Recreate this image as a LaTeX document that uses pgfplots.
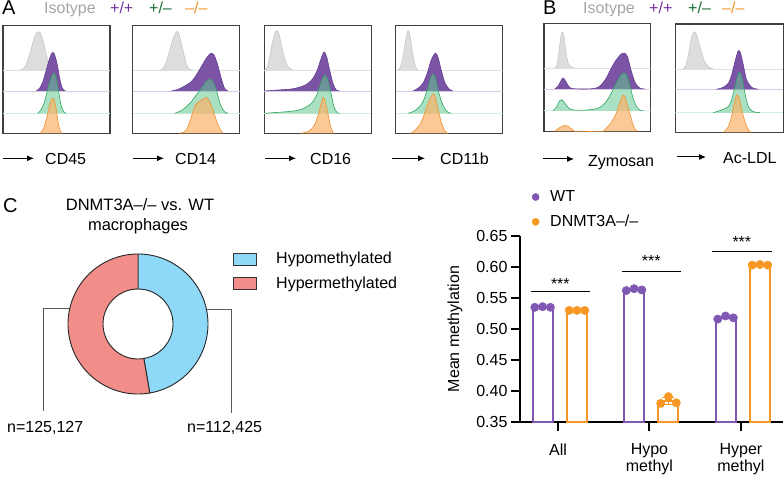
\documentclass[border=0pt]{standalone}
\usepackage{pgfplots}
\pgfplotsset{compat=1.18}
\usepackage{fontspec}
\setmainfont{Liberation Sans}
\usetikzlibrary{arrows.meta}
\definecolor{isofill}{RGB}{221,221,221}
\definecolor{isoline}{RGB}{195,195,195}
\definecolor{wtfill}{RGB}{124,84,166}
\definecolor{wtline}{RGB}{100,60,145}
\definecolor{hetfill}{RGB}{100,200,145}
\definecolor{hetline}{RGB}{45,165,95}
\definecolor{kofill}{RGB}{250,178,105}
\definecolor{koline}{RGB}{240,145,50}
\definecolor{isotxt}{RGB}{165,165,165}
\definecolor{wttxt}{RGB}{112,48,160}
\definecolor{hettxt}{RGB}{25,110,55}
\definecolor{kotxt}{RGB}{242,150,45}
\definecolor{hypoc}{RGB}{142,216,248}
\definecolor{hyperc}{RGB}{242,142,138}
\definecolor{wtc}{RGB}{128,88,180}
\definecolor{koc}{RGB}{247,152,36}
\newcommand{\fs}{\fontsize{16}{17}\selectfont}
\newcommand{\fa}{\fontsize{16}{17}\selectfont}
\pgfplotsset{
 histo/.style={scale only axis, width=107pt, height=107.6pt, y dir=reverse, xtick=\empty, ytick=\empty,
   axis line style={draw=black!75, line width=1.1pt}, anchor=center, clip=true},
 iso/.style={draw=isoline, fill=isofill, line width=0.5pt, smooth, tension=0.5},
 wt/.style={draw=wtline, fill=wtfill, line width=0.6pt, smooth, tension=0.5},
 het/.style={draw=hetline, fill=hetfill, fill opacity=0.55, line width=0.6pt, smooth, tension=0.5},
 ko/.style={draw=koline, fill=kofill, fill opacity=0.7, line width=0.6pt, smooth, tension=0.5},
 bl1/.style={draw=black!12, line width=0.6pt},
 bl2/.style={draw=wtfill!30, line width=0.6pt},
 bl3/.style={draw=hetfill!30, line width=0.6pt},
}
\begin{document}
\begin{tikzpicture}[x=1pt,y=1pt]
\useasboundingbox (0,0) rectangle (784,479);
% ---------- Panel A / B headers
\node[anchor=base west, inner sep=0] at (2,464) {\fontsize{20}{22}\selectfont A};
\node[anchor=base west, inner sep=0, text=isotxt] at (44,465.5) {\fa Isotype};
\node[anchor=base west, inner sep=0, text=wttxt] at (110,465.5) {\fa +/+};
\node[anchor=base west, inner sep=0, text=hettxt] at (149,465.5) {\fa +/–};
\node[anchor=base west, inner sep=0, text=kotxt] at (185,465.5) {\fa –/–};
\node[anchor=base west, inner sep=0] at (543,464) {\fontsize{20}{22}\selectfont B};
\node[anchor=base west, inner sep=0, text=isotxt] at (583,465.5) {\fa Isotype};
\node[anchor=base west, inner sep=0, text=wttxt] at (649,465.5) {\fa +/+};
\node[anchor=base west, inner sep=0, text=hettxt] at (688,465.5) {\fa +/–};
\node[anchor=base west, inner sep=0, text=kotxt] at (722,465.5) {\fa –/–};
% ---------- Box 1 CD45
\begin{axis}[histo, at={(56.5pt,399.5pt)}, xmin=9, xmax=328, ymin=17, ymax=340]
\addplot[bl1] coordinates {(9,150)(328,150)};
\addplot[bl2] coordinates {(9,213)(328,213)};
\addplot[bl3] coordinates {(9,280)(328,280)};
\addplot[iso] coordinates {(60,150)(70,146)(80,128)(90,98)(100,60)(107,42)(114,35)(121,40)(128,60)(136,95)(143,125)(150,145)(158,150)};
\addplot[wt] coordinates {(108,213)(118,205)(128,185)(138,150)(148,115)(156,98)(162,102)(170,130)(178,175)(186,205)(195,213)};
\addplot[het] coordinates {(112,280)(122,270)(132,248)(142,210)(152,175)(160,160)(166,168)(174,210)(182,255)(190,275)(198,280)};
\addplot[ko] coordinates {(120,340)(130,325)(140,290)(148,255)(156,235)(162,240)(168,270)(174,310)(180,335)(186,340)};
\end{axis}
% ---------- Box 2 CD14
\begin{axis}[histo, at={(186.35pt,399.5pt)}, xmin=14, xmax=336, ymin=17, ymax=340]
\addplot[bl1] coordinates {(14,150)(336,150)};
\addplot[bl2] coordinates {(14,213)(336,213)};
\addplot[bl3] coordinates {(14,280)(336,280)};
\addplot[iso] coordinates {(95,150)(105,145)(115,125)(125,90)(135,55)(146,35)(152,40)(160,70)(168,105)(176,135)(185,148)(195,150)};
\addplot[wt] coordinates {(130,213)(150,208)(170,198)(190,185)(205,165)(220,140)(235,115)(248,100)(258,105)(268,130)(280,175)(290,205)(300,213)};
\addplot[het] coordinates {(140,280)(160,272)(175,260)(190,245)(205,225)(220,205)(235,185)(245,178)(255,185)(265,210)(278,255)(290,275)(300,280)};
\addplot[ko] coordinates {(155,340)(170,335)(180,320)(190,290)(200,260)(212,245)(225,238)(235,232)(245,245)(255,270)(265,300)(275,325)(285,340)};
\end{axis}
% ---------- Box 3 CD16
\begin{axis}[histo, at={(317.65pt,399.5pt)}, xmin=18, xmax=340, ymin=17, ymax=340]
\addplot[bl1] coordinates {(18,150)(340,150)};
\addplot[bl2] coordinates {(18,213)(340,213)};
\addplot[bl3] coordinates {(18,280)(340,280)};
\addplot[iso] coordinates {(20,150)(28,140)(35,110)(42,70)(50,40)(55,32)(62,40)(70,75)(80,115)(90,140)(105,150)};
\addplot[wt] coordinates {(20,213)(60,210)(100,207)(130,200)(150,190)(165,175)(178,150)(188,120)(198,96)(206,110)(215,150)(225,190)(235,210)(245,213)};
\addplot[het] coordinates {(20,280)(60,277)(100,274)(130,268)(150,258)(165,245)(178,220)(190,185)(200,165)(208,175)(218,215)(228,260)(238,278)(245,280)};
\addplot[ko] coordinates {(130,340)(145,336)(160,328)(172,310)(182,280)(190,250)(196,232)(202,245)(210,280)(218,320)(226,340)};
\end{axis}
% ---------- Box 4 CD11b
\begin{axis}[histo, at={(449.15pt,399.5pt)}, xmin=33, xmax=355, ymin=17, ymax=340]
\addplot[bl1] coordinates {(33,150)(355,150)};
\addplot[bl2] coordinates {(33,213)(355,213)};
\addplot[bl3] coordinates {(33,280)(355,280)};
\addplot[iso] coordinates {(40,150)(48,140)(55,110)(62,65)(70,32)(76,45)(84,100)(92,138)(100,150)};
\addplot[wt] coordinates {(85,213)(100,205)(115,190)(128,160)(140,120)(152,100)(160,110)(170,150)(182,190)(195,208)(205,213)};
\addplot[het] coordinates {(70,280)(85,275)(100,265)(115,245)(128,210)(138,175)(145,162)(152,172)(162,215)(175,255)(188,275)(200,280)};
\addplot[ko] coordinates {(78,340)(92,330)(105,315)(115,295)(125,265)(135,240)(145,222)(152,230)(160,265)(170,305)(180,332)(190,340)};
\end{axis}
% ---------- Box 5 Zymosan
\begin{axis}[histo, width=106.7pt, at={(597.35pt,401.5pt)}, xmin=18, xmax=338, ymin=17, ymax=340]
\addplot[bl1] coordinates {(18,150)(338,150)};
\addplot[bl2] coordinates {(18,213)(338,213)};
\addplot[bl3] coordinates {(18,278)(338,278)};
\addplot[iso] coordinates {(50,150)(57,140)(63,100)(68,60)(72,42)(78,55)(85,110)(92,140)(100,147)(110,150)};
\addplot[wt] coordinates {(50,213)(60,205)(68,190)(75,180)(82,188)(92,205)(105,212)(150,213)(175,210)(190,200)(205,180)(220,150)(235,125)(250,108)(258,105)(268,115)(280,160)(292,195)(305,210)(320,213)};
\addplot[het] coordinates {(45,278)(55,268)(63,252)(70,245)(78,252)(90,268)(105,276)(150,276)(175,272)(190,265)(205,250)(220,225)(235,195)(248,172)(258,165)(266,172)(275,200)(285,240)(295,265)(305,276)(315,278)};
\addplot[ko] coordinates {(50,340)(60,332)(72,325)(82,322)(92,326)(105,336)(115,340)(190,340)(200,335)(210,325)(222,310)(235,285)(245,255)(255,232)(262,240)(272,275)(282,310)(290,332)(298,340)};
\end{axis}
% ---------- Box 6 Ac-LDL
\begin{axis}[histo, width=108pt, height=108.3pt, at={(729.3pt,400.85pt)}, xmin=826, xmax=1150, ymin=72, ymax=397]
\addplot[bl1] coordinates {(826,207)(1150,207)};
\addplot[bl2] coordinates {(826,268)(1150,268)};
\addplot[bl3] coordinates {(826,338)(1150,338)};
\addplot[iso] coordinates {(850,207)(858,195)(866,160)(874,115)(882,95)(890,105)(900,140)(912,180)(925,200)(940,207)};
\addplot[wt] coordinates {(950,268)(970,262)(985,250)(995,225)(1005,185)(1015,152)(1022,160)(1030,195)(1040,240)(1055,262)(1075,268)};
\addplot[het] coordinates {(940,338)(965,330)(985,320)(995,300)(1005,260)(1017,218)(1025,230)(1035,280)(1045,320)(1060,335)(1080,338)};
\addplot[ko] coordinates {(970,397)(982,385)(992,360)(1002,315)(1010,285)(1018,295)(1028,340)(1040,380)(1052,397)};
\end{axis}
% ---------- axis captions
\tikzset{ar/.style={-{Latex[length=7pt,width=6pt]}, line width=1pt}}
\draw[ar] (3,320.7) -- (34,320.7);   \node[anchor=base west, inner sep=0] at (45,314) {\fa CD45};
\draw[ar] (133,320.7) -- (164,320.7); \node[anchor=base west, inner sep=0] at (175,314) {\fa CD14};
\draw[ar] (265,320.7) -- (296,320.7); \node[anchor=base west, inner sep=0] at (310,314) {\fa CD16};
\draw[ar] (392,320.7) -- (425,320.7); \node[anchor=base west, inner sep=0] at (440,314) {\fa CD11b};
\draw[ar] (543,320) -- (574,320); \node[anchor=base west, inner sep=0] at (588,312) {\fa Zymosan};
\draw[ar] (677,322) -- (706,322); \node[anchor=base west, inner sep=0] at (723,315.5) {\fa Ac-LDL};
% ---------- Panel C
\node[anchor=base west, inner sep=0] at (3,266) {\fontsize{20}{22}\selectfont C};
\node[anchor=base, inner sep=0] at (140,268.3) {\fontsize{16.5}{18}\selectfont DNMT3A–/– vs. WT};
\node[anchor=base, inner sep=0] at (138,248.3) {\fontsize{16.5}{18}\selectfont macrophages};
\pgfmathsetmacro{\frac}{112.425/(112.425+125.127)}
\pgfmathsetmacro{\ang}{90-360*\frac}
\begin{axis}[hide axis, scale only axis, width=140pt, height=140pt, xmin=-1, xmax=1, ymin=-1, ymax=1,
  at={(138pt,155pt)}, anchor=center, clip=false]
\addplot[draw=black!65, line width=0.9pt] coordinates {(-0.974,0.229)(-1.357,0.229)(-1.357,-1.243)};
\addplot[draw=black!65, line width=0.9pt] coordinates {(0.977,0.214)(1.329,0.214)(1.329,-1.271)};
\begin{scope}[shift={(axis cs:0,0)}]
\filldraw[fill=hypoc, draw=black!85, line width=0.9pt] (90:70pt) arc[start angle=90, end angle=\ang, radius=70pt] -- (\ang:35pt) arc[start angle=\ang, end angle=90, radius=35pt] -- cycle;
\filldraw[fill=hyperc, draw=black!85, line width=0.9pt] (\ang:70pt) arc[start angle=\ang, end angle=-270, radius=70pt] -- (-270:35pt) arc[start angle=-270, end angle=\ang, radius=35pt] -- cycle;
\end{scope}
\end{axis}
\draw[fill=hypoc, draw=black!80, line width=0.8pt] (233,214) rectangle (256,226);
\draw[fill=hyperc, draw=black!80, line width=0.8pt] (233,190) rectangle (256,202);
\node[anchor=base west, inner sep=0] at (276,215) {\fs Hypomethylated};
\node[anchor=base west, inner sep=0] at (276,190.7) {\fs Hypermethylated};
\node[anchor=base west, inner sep=0] at (7,46.7) {\fs n=125,127};
\node[anchor=base west, inner sep=0] at (187,46.7) {\fs n=112,425};
% ---------- Bar chart
\begin{axis}[at={(520pt,57pt)}, anchor=south west, scale only axis, width=263pt, height=186pt,
  xmin=-0.415, xmax=2.46, ymin=0.35, ymax=0.65,
  axis x line*=bottom, axis y line*=left,
  axis line style={line width=2pt, black},
  tick style={line width=2pt, black}, major tick length=9pt, tick align=outside,
  xtick={0,1,2}, xticklabels={All, Hypo\\methyl, Hyper\\methyl},
  xticklabel style={font=\fs, align=center, yshift=-9pt},
  ytick={0.35,0.40,0.45,0.50,0.55,0.60,0.65}, scaled y ticks=false,
  yticklabel style={font=\fs, /pgf/number format/fixed, /pgf/number format/fixed zerofill, /pgf/number format/precision=2},
  /pgf/number format/assume math mode=true,
  ylabel={Mean methylation}, ylabel style={font=\fs, at={(axis description cs:-0.247,0.5)}, anchor=center},
  legend image code/.code={\draw[#1, mark size=3.6pt] plot coordinates {(0pt,0pt)};},
  legend style={at={(axis description cs:0.045,1.255)}, anchor=north west, draw=none, fill=none, font=\fs, row sep=8pt, inner sep=0pt,
    /tikz/every odd column/.append style={column sep=9pt}},
  legend cell align=left]
\addplot[ybar, bar width=20pt, bar shift=0pt, draw=wtc, fill=white, line width=2pt, forget plot] coordinates {(-0.168,0.5353)(0.832,0.5633)(1.832,0.5183)};
\addplot[ybar, bar width=20pt, bar shift=0pt, draw=koc, fill=white, line width=2pt, forget plot] coordinates {(0.208,0.530)(1.208,0.3837)(2.208,0.6033)};
\addplot[draw=koc, line width=1.5pt, mark=none, forget plot, error bars/.cd, y dir=both, y explicit, error bar style={line width=1.5pt, koc}, error mark options={rotate=90, mark size=6pt, line width=1.5pt, koc}] coordinates {(1.208,0.3837) +- (0,0.0055)};
\addplot[only marks, mark=*, mark size=4.2pt, color=wtc] coordinates {(-0.253,0.535)(-0.168,0.536)(-0.083,0.535)(0.747,0.562)(0.832,0.565)(0.917,0.563)(1.747,0.516)(1.832,0.521)(1.917,0.518)};
\addlegendentry{WT}
\addplot[only marks, mark=*, mark size=4.2pt, color=koc] coordinates {(0.123,0.530)(0.208,0.530)(0.293,0.530)(1.123,0.380)(1.208,0.391)(1.293,0.381)(2.123,0.603)(2.208,0.604)(2.293,0.603)};
\addlegendentry{DNMT3A–/–}
\addplot[black, line width=0.8pt, forget plot] coordinates {(-0.298,0.560)(0.346,0.560)};
\addplot[black, line width=0.8pt, forget plot] coordinates {(0.705,0.5935)(1.350,0.5935)};
\addplot[black, line width=0.8pt, forget plot] coordinates {(1.686,0.6247)(2.342,0.6247)};
\node[anchor=base, inner sep=0] at (axis cs:0.026,0.5637) {\fs ***};
\node[anchor=base, inner sep=0] at (axis cs:1.02,0.600) {\fs ***};
\node[anchor=base, inner sep=0] at (axis cs:2.01,0.632) {\fs ***};
\end{axis}
\end{tikzpicture}
\end{document}
